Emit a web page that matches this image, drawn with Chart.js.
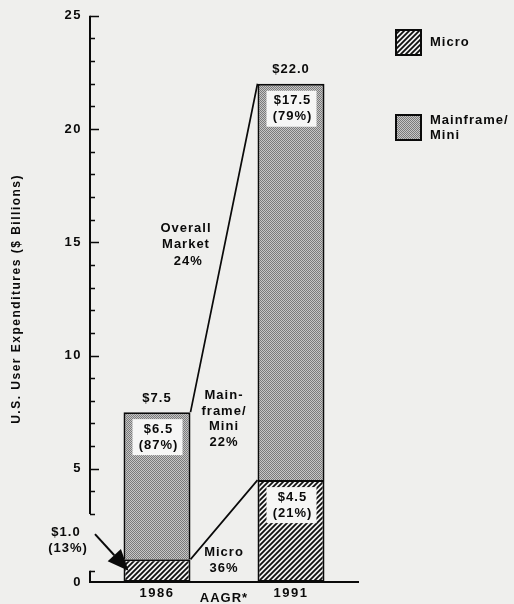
<!DOCTYPE html>
<html>
<head>
<meta charset="utf-8">
<script src="https://cdn.jsdelivr.net/npm/chart.js@4"></script>
<style>
  html, body { margin: 0; padding: 0; background: #efefed; }
  canvas { display: block; }
</style>
</head>
<body>
<canvas id="chart" width="514" height="604"></canvas>
<script>
// U.S. user expenditures, $ billions
const years = ['1986', '1991'];
const microSpend = [1.0, 4.5];
const mainframeSpend = [6.5, 17.5];
const microShare = [13, 21];        // percent of total
const mainframeShare = [87, 79];    // percent of total
const seriesNames = ['Micro', 'Mainframe/\nMini'];
const yTickLabels = [0, 5, 10, 15, 20, 25];
// average annual growth rates 1986-1991, percent
const growthOverall = 24;
const growthMainframe = 22;
const growthMicro = 36;

const FONT = '"Liberation Sans", Arial, Helvetica, sans-serif';
const INK = '#0a0a0a';
const BOX = '#f6f6f5';

const canvas = document.getElementById('chart');
const ctx = canvas.getContext('2d');

function hatchPattern() {
  const s = 5;
  const c = document.createElement('canvas');
  c.width = c.height = s;
  const g = c.getContext('2d');
  g.fillStyle = '#f3f3f3';
  g.fillRect(0, 0, s, s);
  g.strokeStyle = '#101010';
  g.lineWidth = 1.8;
  g.beginPath();
  g.moveTo(-1, s + 1); g.lineTo(s + 1, -1);
  g.moveTo(-1, 1); g.lineTo(1, -1);
  g.moveTo(s - 1, s + 1); g.lineTo(s + 1, s - 1);
  g.stroke();
  return ctx.createPattern(c, 'repeat');
}

function stipplePattern() {
  const c = document.createElement('canvas');
  c.width = c.height = 2;
  const g = c.getContext('2d');
  g.fillStyle = '#c6c6c6';
  g.fillRect(0, 0, 2, 2);
  g.fillStyle = '#7a7a7a';
  g.fillRect(0, 0, 1, 1);
  g.fillRect(1, 1, 1, 1);
  return ctx.createPattern(c, 'repeat');
}

const microFill = hatchPattern();
const mainFill = stipplePattern();

function drawText(c, str, x, y, size, align) {
  c.font = `bold ${size || 13}px ${FONT}`;
  c.textAlign = align || 'center';
  c.textBaseline = 'middle';
  c.fillStyle = INK;
  c.fillText(str, x, y);
}

function drawLines(c, lines, x, yCenter, lh, size) {
  const start = yCenter - (lines.length - 1) * lh / 2;
  lines.forEach((s, i) => drawText(c, s, x, start + i * lh, size));
}

// broken value axis with inward ticks
const axisPlugin = {
  id: 'valueAxis',
  beforeDraw(chart) {
    chart.ctx.letterSpacing = '1.5px';
  },
  afterDraw(chart) {
    const c = chart.ctx;
    const y = chart.scales.y;
    const x0 = chart.chartArea.left;
    const breakLo = 0.5, breakHi = 3;
    c.save();
    c.strokeStyle = INK;
    c.lineWidth = 2;
    c.beginPath();
    c.moveTo(x0, y.getPixelForValue(25));
    c.lineTo(x0, y.getPixelForValue(breakHi));
    c.moveTo(x0, y.getPixelForValue(breakLo));
    c.lineTo(x0, y.getPixelForValue(0));
    c.stroke();
    c.lineWidth = 1.5;
    c.beginPath();
    const marks = [breakLo];
    for (let v = 1; v <= 25; v++) {
      if (v > breakLo && v < breakHi) continue;
      marks.push(v);
    }
    marks.forEach(v => {
      const py = Math.round(y.getPixelForValue(v)) + 0.5;
      const len = yTickLabels.includes(v) ? 9 : 5;
      c.moveTo(x0, py);
      c.lineTo(x0 + len, py);
    });
    c.stroke();
    c.restore();
  }
};

// value boxes, connectors, growth notes and legend
const notesPlugin = {
  id: 'notes',
  afterDatasetsDraw(chart) {
    const c = chart.ctx;
    const ys = chart.scales.y;
    const micro = chart.getDatasetMeta(0).data;
    const main = chart.getDatasetMeta(1).data;
    c.save();
    c.letterSpacing = '1px';

    const edges = main.map(el => ({ left: el.x - el.width / 2, right: el.x + el.width / 2 }));

    // connectors between the bars
    c.strokeStyle = INK;
    c.lineWidth = 1.7;
    c.beginPath();
    c.moveTo(edges[0].right, main[0].y);
    c.lineTo(edges[1].left, main[1].y);
    c.moveTo(edges[0].right, micro[0].y);
    c.lineTo(edges[1].left, micro[1].y);
    c.stroke();

    // boxed labels inside the segments
    const box = (left, right, top, lines) => {
      const bx = left + 9, bw = right - 8 - bx;
      c.fillStyle = BOX;
      c.fillRect(bx, top + 7, bw, 36);
      drawText(c, lines[0], bx + bw / 2 + 1, top + 17);
      drawText(c, lines[1], bx + bw / 2 + 1, top + 33);
    };
    years.forEach((yr, j) => {
      box(edges[j].left, edges[j].right, main[j].y,
        ['$' + mainframeSpend[j].toFixed(1), '(' + mainframeShare[j] + '%)']);
      if (micro[j].base - micro[j].y > 50) {
        box(edges[j].left, edges[j].right, micro[j].y,
          ['$' + microSpend[j].toFixed(1), '(' + microShare[j] + '%)']);
      }
      const total = microSpend[j] + mainframeSpend[j];
      drawText(c, '$' + total.toFixed(1), main[j].x, main[j].y - 14);
    });

    // small 1986 micro segment: label outside with arrow
    const lx = 66, ly = ys.getPixelForValue(2.2);
    drawText(c, '$' + microSpend[0].toFixed(1), lx, ly);
    drawText(c, '(' + microShare[0] + '%)', lx + 2, ly + 16);
    const tipX = edges[0].left + 5;
    const tipY = (micro[0].y + micro[0].base) / 2;
    const fromX = 95, fromY = ly + 2;
    const ang = Math.atan2(tipY - fromY, tipX - fromX);
    const headLen = 21, headW = 9;
    const hx = tipX - headLen * Math.cos(ang), hy = tipY - headLen * Math.sin(ang);
    c.beginPath();
    c.moveTo(fromX, fromY);
    c.lineTo(hx, hy);
    c.lineWidth = 2;
    c.stroke();
    c.beginPath();
    c.moveTo(tipX, tipY);
    c.lineTo(hx + headW * Math.sin(ang), hy - headW * Math.cos(ang));
    c.lineTo(hx - headW * Math.sin(ang), hy + headW * Math.cos(ang));
    c.closePath();
    c.fillStyle = INK;
    c.fill();

    // growth rates between the bars
    const midX = (edges[0].right + edges[1].left) / 2;
    drawLines(c, ['Overall', 'Market', ' ' + growthOverall + '%'], midX - 38, ys.getPixelForValue(14.9), 16.5);
    drawLines(c, ['Main-', 'frame/', 'Mini', growthMainframe + '%'], midX, ys.getPixelForValue(7.2), 15.7);
    drawLines(c, ['Micro', growthMicro + '%'], midX, ys.getPixelForValue(0.95), 15.5);
    drawText(c, 'AAGR*', midX, chart.chartArea.bottom + 16);

    // legend
    const legX = chart.chartArea.right + 38;
    const legTops = [30, 115];
    chart.data.datasets.forEach((ds, i) => {
      c.fillStyle = ds.backgroundColor;
      c.fillRect(legX, legTops[i], 25, 25);
      c.strokeStyle = INK;
      c.lineWidth = 2;
      c.strokeRect(legX, legTops[i], 25, 25);
      const lines = ds.label.split('\n');
      lines.forEach((s, k) => drawText(c, s, legX + 34, legTops[i] + 12 + k * 15 - (lines.length > 1 ? 7 : 0), 13, 'left'));
    });
    c.restore();
  }
};

const tickFont = { family: FONT, size: 13, weight: 'bold' };

new Chart(ctx, {
  type: 'bar',
  data: {
    labels: years,
    datasets: [
      { label: seriesNames[0], data: microSpend, backgroundColor: microFill,
        borderColor: INK, borderWidth: 2, borderSkipped: false },
      { label: seriesNames[1], data: mainframeSpend, backgroundColor: mainFill,
        borderColor: INK, borderWidth: 2, borderSkipped: 'bottom' }
    ]
  },
  options: {
    responsive: false,
    animation: false,
    devicePixelRatio: 1,
    layout: { padding: { left: 0, top: 12, right: 156, bottom: 0 } },
    datasets: { bar: { barPercentage: 0.5, categoryPercentage: 1.0 } },
    plugins: { legend: { display: false }, tooltip: { enabled: false } },
    scales: {
      x: {
        stacked: true,
        grid: { display: false, drawTicks: false },
        border: { display: true, color: INK, width: 2 },
        ticks: { font: tickFont, color: INK, padding: 4 },
        afterFit: s => { s.height = 22; }
      },
      y: {
        stacked: true,
        min: 0,
        max: 25,
        grid: { display: false, drawTicks: false },
        border: { display: false },
        ticks: {
          stepSize: 1,
          autoSkip: false,
          padding: 8,
          font: tickFont,
          color: INK,
          callback: v => (yTickLabels.includes(v) ? String(v) : '')
        },
        title: {
          display: true,
          text: 'U.S. User Expenditures ($ Billions)',
          font: { family: FONT, size: 12, weight: 'bold' },
          color: INK,
          padding: { top: 9, bottom: 0 }
        },
        afterFit: s => { s.width = 90; }
      }
    }
  },
  plugins: [axisPlugin, notesPlugin]
});
</script>
</body>
</html>
